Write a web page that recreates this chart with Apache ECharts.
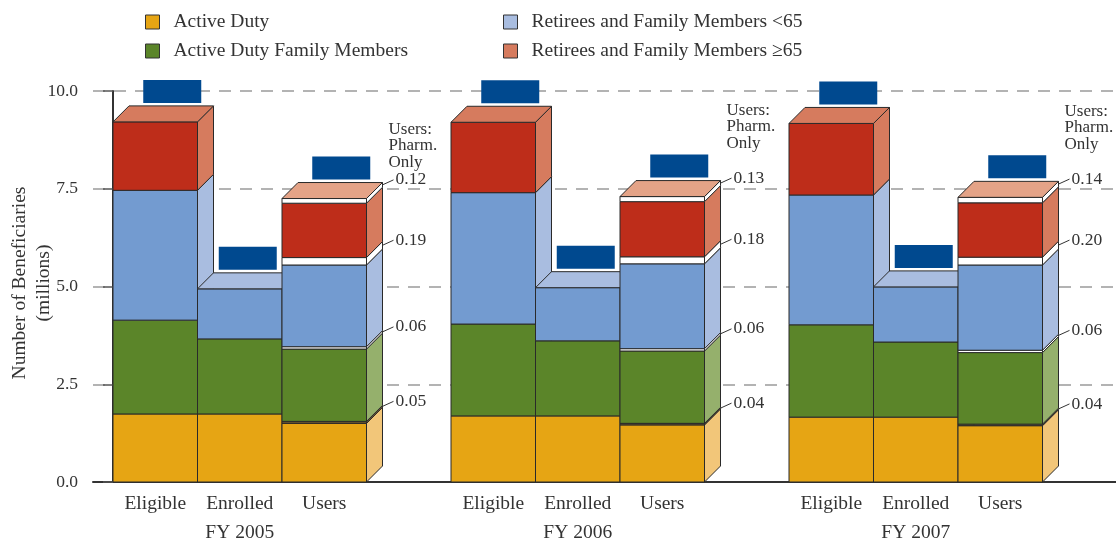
<!DOCTYPE html>
<html>
<head>
<meta charset="utf-8">
<script src="https://cdn.jsdelivr.net/npm/echarts@6/dist/echarts.min.js"></script>
<style>
html,body{margin:0;padding:0;background:#fff;}
#chart{width:1116px;height:540px;}
</style>
</head>
<body>
<div id="chart"></div>
<script>
// ---- data ----
const years = ['FY 2005', 'FY 2006', 'FY 2007'];
const barTypes = ['Eligible', 'Enrolled', 'Users'];
const seriesNames = ['Active Duty', 'Active Duty Family Members', 'Retirees and Family Members <65', 'Retirees and Family Members \u226565'];
const yTitle = 'Number of Beneficiaries\n(millions)';
const yTicks = [0, 2.5, 5, 7.5, 10];
// order: FY05 Eligible, Enrolled, Users, FY06 ..., FY07 ...
const activeDuty   = [1.74, 1.74, 1.50, 1.69, 1.69, 1.46, 1.66, 1.66, 1.44];
const adFamily     = [2.40, 1.92, 1.85, 2.35, 1.92, 1.85, 2.36, 1.92, 1.83];
const retUnder65   = [3.32, 1.28, 2.09, 3.36, 1.36, 2.17, 3.32, 1.41, 2.18];
const retOver65    = [1.75, 0.00, 1.39, 1.80, 0.00, 1.41, 1.83, 0.00, 1.39];
// Users: pharmacy only (per fiscal year)
const pharmAD       = [0.05, 0.04, 0.04];
const pharmADFamily = [0.06, 0.06, 0.06];
const pharmUnder65  = [0.19, 0.18, 0.20];
const pharmOver65   = [0.12, 0.13, 0.14];

// ---- styles ----
const FONT = 'Liberation Serif';
const TXT = '#333333';
const D = 16;               // 3-D depth in px
const STROKE = '#2a2a2a';
const STY = {
  ad:   {front: '#E6A514', side: '#F2C679', top: '#F2C679'},
  pad:  {front: '#6b5530', side: '#6b5530', top: '#6b5530'},
  adf:  {front: '#5B8529', side: '#95B06C', top: '#95B06C'},
  padf: {front: '#ffffff', side: '#ffffff', top: '#ffffff'},
  r1:   {front: '#739BD0', side: '#A9BDE0', top: '#A9BDE0'},
  pr1:  {front: '#ffffff', side: '#ffffff', top: '#ffffff'},
  r2:   {front: '#BE2D1A', side: '#D67B5E', top: '#D67B5E'},
  pr2:  {front: '#ffffff', side: '#ffffff', top: '#E4A387'}
};
const legendColors = ['#E6A514', '#5B8529', '#A9BDE0', '#D67B5E'];

// slot index on the x axis (one empty slot between fiscal years)
const slots = [];
for (let g = 0; g < years.length; g++) for (let k = 0; k < barTypes.length; k++) slots.push(g * 4 + k);

function renderItem(params, api) {
  const i = params.dataIndex;
  const slot = slots[i];
  const role = i % 3;
  const g = Math.floor(i / 3);
  const p0 = api.coord([slot, 0]);
  const x0 = p0[0], base = p0[1];
  const x1 = api.coord([slot + 1, 0])[0];
  const xc = (x0 + x1) / 2;
  const segs = [];
  const push = (v, key, lab) => { if (v > 0) segs.push({v, key, lab}); };
  push(activeDuty[i], 'ad');
  if (role === 2) push(pharmAD[g], 'pad', pharmAD[g]);
  push(adFamily[i], 'adf');
  if (role === 2) push(pharmADFamily[g], 'padf', pharmADFamily[g]);
  push(retUnder65[i], 'r1');
  if (role === 2) push(pharmUnder65[g], 'pr1', pharmUnder65[g]);
  push(retOver65[i], 'r2');
  if (role === 2) push(pharmOver65[g], 'pr2', pharmOver65[g]);

  const children = [];
  const notes = [];
  let cum = 0;
  segs.forEach((s, j) => {
    const yb = api.coord([slot, cum])[1];
    cum += s.v;
    const yt = api.coord([slot, cum])[1];
    const st = STY[s.key];
    children.push({type: 'polygon', shape: {points: [[x1, yb], [x1 + D, yb - D], [x1 + D, yt - D], [x1, yt]]},
      style: {fill: st.side, stroke: STROKE, lineWidth: 1}});
    children.push({type: 'rect', shape: {x: x0, y: yt, width: x1 - x0, height: yb - yt},
      style: {fill: st.front, stroke: STROKE, lineWidth: 1}});
    if (j === segs.length - 1) {
      children.push({type: 'polygon', shape: {points: [[x0, yt], [x0 + D, yt - D], [x1 + D, yt - D], [x1, yt]]},
        style: {fill: st.top, stroke: STROKE, lineWidth: 1}});
    }
    if (s.lab !== undefined) {
      const yc = (yb + yt) / 2 - D;
      const bx = x1 + D;
      notes.push({type: 'line', shape: {x1: bx, y1: yc, x2: bx + 11, y2: yc - 5},
        style: {stroke: '#333', lineWidth: 1}});
      notes.push({type: 'text', x: bx + 13, y: yc - 5,
        style: {text: s.lab.toFixed(2), fill: TXT, font: '17.5px "' + FONT + '"', align: 'left', verticalAlign: 'middle'}});
      s.yc = yc;
    }
  });
  const topY = api.coord([slot, cum])[1] - D;
  const off = role === 1 ? 8 : 17;
  children.push({type: 'rect', shape: {x: xc + off - 29, y: topY - 3 - 23, width: 58, height: 23},
    style: {fill: '#00498F'}});
  if (role === 2) {
    const topLab = segs[segs.length - 1].yc - 5;
    const blockTop = topLab - (g === 0 ? 59 : 76);
    children.push({type: 'text', x: x1 + D + 6, y: blockTop,
      style: {text: 'Users:\nPharm.\nOnly', fill: TXT, font: '17px "' + FONT + '"', lineHeight: 16.5,
        align: 'left', verticalAlign: 'top'}});
  }
  children.push.apply(children, notes);
  children.push({type: 'text', x: xc, y: base + 22,
    style: {text: barTypes[role], fill: TXT, font: '19.5px "' + FONT + '"', align: 'center', verticalAlign: 'middle'}});
  if (role === 1) {
    children.push({type: 'text', x: xc, y: base + 51,
      style: {text: years[g], fill: TXT, font: '19.5px "' + FONT + '"', align: 'center', verticalAlign: 'middle'}});
  }
  return {type: 'group', children};
}

const chart = echarts.init(document.getElementById('chart'), null, {renderer: 'canvas'});
const legendBase = {
  orient: 'vertical', icon: 'rect', itemWidth: 14, itemHeight: 14, itemGap: 9, top: 7,
  selectedMode: false,
  itemStyle: {borderColor: '#333', borderWidth: 1},
  textStyle: {fontFamily: FONT, fontSize: 19.5, color: TXT, lineHeight: 20, padding: [0, 0, 0, 9]}
};
const dummy = seriesNames.map((n, k) => ({
  type: 'custom', name: n, data: [], renderItem: () => null, itemStyle: {color: legendColors[k]}
}));
chart.setOption({
  animation: false,
  backgroundColor: '#fff',
  legend: [
    Object.assign({}, legendBase, {left: 140, data: [seriesNames[0], seriesNames[1]]}),
    Object.assign({}, legendBase, {left: 498, data: [seriesNames[2], seriesNames[3]]})
  ],
  graphic: [{
    type: 'text', x: 32, y: 283, rotation: Math.PI / 2,
    style: {text: yTitle, fill: TXT, font: '19.5px "' + FONT + '"', lineHeight: 24,
      align: 'center', verticalAlign: 'middle'}
  }],
  grid: {left: 93, right: 0, top: 91, bottom: 58, containLabel: false, outerBoundsMode: 'none'},
  xAxis: {
    type: 'value', min: -20 / 84.5, max: 1003 / 84.5,
    axisLine: {show: true, onZero: false, lineStyle: {color: '#333', width: 2}},
    axisTick: {show: false}, axisLabel: {show: false}, splitLine: {show: false}
  },
  yAxis: {
    type: 'value', min: yTicks[0], max: yTicks[yTicks.length - 1], interval: 2.5,
    axisLine: {show: true, lineStyle: {color: '#333', width: 2}},
    axisTick: {show: true, length: 10, lineStyle: {color: '#555', width: 1.5}},
    axisLabel: {margin: 15, fontFamily: FONT, fontSize: 17.5, color: TXT, formatter: v => v.toFixed(1)},
    splitLine: {show: true, lineStyle: {color: '#9a9a9a', width: 1.6, type: [12, 9]}}
  },
  series: dummy.concat([{
    type: 'custom', name: 'bars', clip: false, renderItem: renderItem,
    encode: {x: 0, y: 1},
    data: slots.map((s, i) => [s + 0.5, activeDuty[i] + adFamily[i] + retUnder65[i] + retOver65[i]]),
    z: 3
  }])
});
</script>
</body>
</html>
